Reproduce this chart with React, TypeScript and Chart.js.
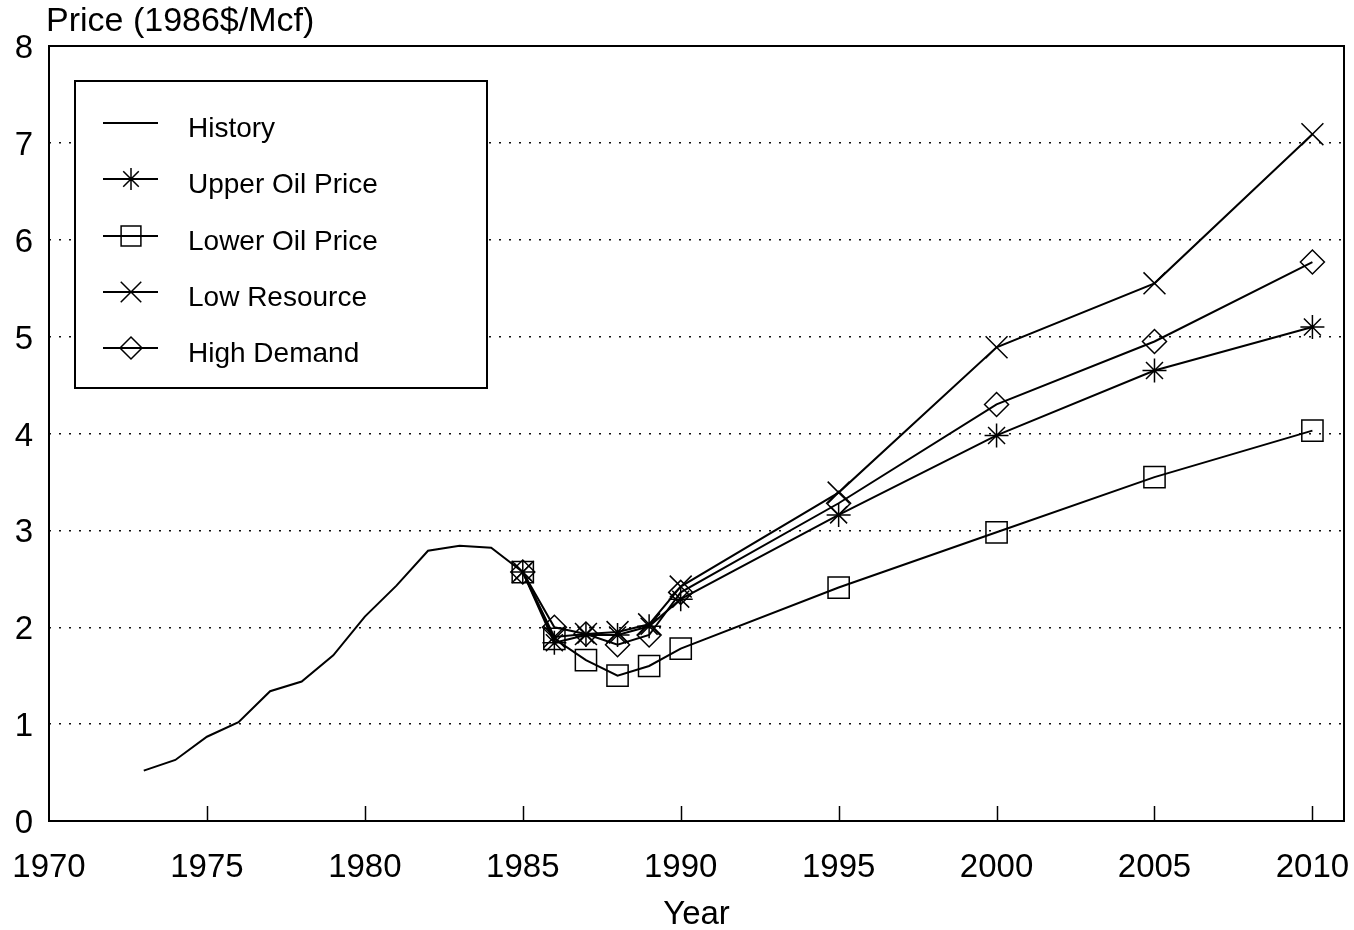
import React, { useEffect, useRef } from 'react';
import { Chart, registerables } from 'chart.js';
import { drawPoint } from 'chart.js/helpers';

Chart.register(...registerables);

const historyYears = [1973, 1974, 1975, 1976, 1977, 1978, 1979, 1980, 1981, 1982, 1983, 1984, 1985];
const historyPrices = [0.52, 0.63, 0.87, 1.02, 1.34, 1.44, 1.71, 2.11, 2.43, 2.79, 2.84, 2.82, 2.57];

const forecastYears = [1985, 1986, 1987, 1988, 1989, 1990, 1995, 2000, 2005, 2010];
const upperOilPrice = [2.57, 1.84, 1.92, 1.92, 2.01, 2.29, 3.16, 3.98, 4.65, 5.1];
const lowerOilPrice = [2.57, 1.88, 1.66, 1.5, 1.6, 1.78, 2.41, 2.98, 3.55, 4.03];
const lowResource = [2.57, 1.9, 1.93, 1.95, 2.03, 2.42, 3.39, 4.89, 5.55, 7.09];
const highDemand = [2.57, 2.0, 1.93, 1.82, 1.92, 2.36, 3.28, 4.3, 4.95, 5.77];

const xTickValues = [1970, 1975, 1980, 1985, 1990, 1995, 2000, 2005, 2010];
const yTickValues = [0, 1, 2, 3, 4, 5, 6, 7, 8];

const seriesNames = ['History', 'Upper Oil Price', 'Lower Oil Price', 'Low Resource', 'High Demand'];
const yTitle = 'Price (1986$/Mcf)';
const xTitle = 'Year';

const FONT = '"Liberation Sans", Arial, Helvetica, sans-serif';

const toXY = (xs: number[], ys: number[]) => xs.map((x, i) => ({ x, y: ys[i] }));

const framePlugin = {
  id: 'frameAndExtras',
  beforeDraw(chart: any) {
    const { ctx, width, height } = chart;
    ctx.save();
    ctx.fillStyle = '#fff';
    ctx.fillRect(0, 0, width, height);
    ctx.restore();
  },
  afterDraw(chart: any) {
    const { ctx, chartArea } = chart;
    const { left, right, top, bottom } = chartArea;
    const xs = chart.scales.x;
    ctx.save();
    // frame
    ctx.strokeStyle = '#000';
    ctx.lineWidth = 2;
    ctx.strokeRect(left, top, right - left, bottom - top);
    // inward x ticks
    ctx.lineWidth = 1.5;
    xTickValues.forEach((v) => {
      if (v === xTickValues[0]) return;
      const px = Math.round(xs.getPixelForValue(v)) + 0.5;
      ctx.beginPath();
      ctx.moveTo(px, bottom);
      ctx.lineTo(px, bottom - 15);
      ctx.stroke();
    });
    // y title at top left
    ctx.fillStyle = '#000';
    ctx.font = `34px ${FONT}`;
    ctx.textAlign = 'left';
    ctx.textBaseline = 'alphabetic';
    ctx.fillText(yTitle, 46, 31);

    // legend box
    const bx = 75, by = 81, bw = 412, bh = 307;
    ctx.fillStyle = '#fff';
    ctx.fillRect(bx, by, bw, bh);
    ctx.strokeStyle = '#000';
    ctx.lineWidth = 2;
    ctx.strokeRect(bx, by, bw, bh);
    const rows = [123, 179, 236, 292, 348];
    chart.data.datasets.forEach((ds: any, i: number) => {
      const ry = rows[i];
      ctx.strokeStyle = '#000';
      ctx.lineWidth = 2;
      ctx.setLineDash([]);
      ctx.beginPath();
      ctx.moveTo(103, ry);
      ctx.lineTo(158, ry);
      ctx.stroke();
      if (ds.pointStyle && ds.pointRadius > 0) {
        ctx.fillStyle = 'rgba(0,0,0,0)';
        ctx.strokeStyle = '#000';
        ctx.lineWidth = ds.pointBorderWidth;
        drawPoint(ctx, { pointStyle: ds.pointStyle, radius: ds.pointRadius - 1, rotation: 0, borderWidth: ds.pointBorderWidth }, 131, ry);
      }
      ctx.fillStyle = '#000';
      ctx.font = `28px ${FONT}`;
      ctx.textAlign = 'left';
      ctx.textBaseline = 'alphabetic';
      ctx.fillText(ds.label, 188, ry + 14);
    });
    ctx.restore();
  },
};

export default function App() {
  const canvasRef = useRef<HTMLCanvasElement | null>(null);

  useEffect(() => {
    const canvas = canvasRef.current;
    if (!canvas) return;
    const common = {
      borderColor: '#000',
      borderWidth: 2,
      backgroundColor: 'rgba(0,0,0,0)',
      pointBorderColor: '#000',
      pointBackgroundColor: 'rgba(0,0,0,0)',
      pointBorderWidth: 1.5,
      tension: 0,
      fill: false,
      clip: false,
    };
    const chart = new Chart(canvas, {
      type: 'line',
      data: {
        datasets: [
          { ...common, label: seriesNames[0], data: toXY(historyYears, historyPrices), pointRadius: 0, pointStyle: false as any },
          { ...common, label: seriesNames[1], data: toXY(forecastYears, upperOilPrice), pointStyle: 'star', pointRadius: 12 },
          { ...common, label: seriesNames[2], data: toXY(forecastYears, lowerOilPrice), pointStyle: 'rect', pointRadius: 15 },
          { ...common, label: seriesNames[3], data: toXY(forecastYears, lowResource), pointStyle: 'crossRot', pointRadius: 15.5 },
          { ...common, label: seriesNames[4], data: toXY(forecastYears, highDemand), pointStyle: 'rectRot', pointRadius: 12 },
        ],
      },
      options: {
        responsive: false,
        animation: false,
        devicePixelRatio: 1,
        layout: { autoPadding: false, padding: { top: 46, right: 10, left: 0, bottom: 0 } },
        plugins: {
          legend: { display: false },
          tooltip: { enabled: false },
          title: { display: false },
        },
        scales: {
          x: {
            type: 'linear',
            min: 1970,
            max: 2011,
            afterBuildTicks: (s: any) => {
              s.ticks = xTickValues.map((v) => ({ value: v }));
            },
            afterFit: (s: any) => {
              s.height = 109;
              s.paddingLeft = 0;
              s.paddingRight = 0;
            },
            grid: { display: false, drawTicks: false },
            border: { display: false },
            ticks: {
              padding: 27,
              color: '#000',
              maxRotation: 0,
              autoSkip: false,
              font: { family: FONT, size: 33 },
              callback: (v: any) => String(v),
            },
            title: {
              display: true,
              text: xTitle,
              color: '#000',
              font: { family: FONT, size: 33 },
              padding: { top: 0, bottom: -5 },
            },
          },
          y: {
            type: 'linear',
            min: 0,
            max: 8,
            afterBuildTicks: (s: any) => {
              s.ticks = yTickValues.map((v) => ({ value: v }));
            },
            afterFit: (s: any) => {
              s.width = 49;
              s.paddingTop = 0;
              s.paddingBottom = 0;
            },
            grid: {
              drawTicks: false,
              lineWidth: 1.5,
              color: (c: any) => (c.tick && (c.tick.value === 0 || c.tick.value === 8) ? 'rgba(0,0,0,0)' : '#111'),
            },
            border: { display: false, dash: [2, 8] },
            ticks: {
              padding: 16,
              labelOffset: 3,
              color: '#000',
              font: { family: FONT, size: 33 },
              callback: (v: any) => String(v),
            },
          },
        },
      },
      plugins: [framePlugin],
    } as any);
    return () => chart.destroy();
  }, []);

  return (
    <div style={{ position: 'absolute', left: 0, top: 0, width: 1354, height: 930, background: '#fff' }}>
      <canvas ref={canvasRef} width={1354} height={930} style={{ display: 'block', width: 1354, height: 930 }} />
    </div>
  );
}
